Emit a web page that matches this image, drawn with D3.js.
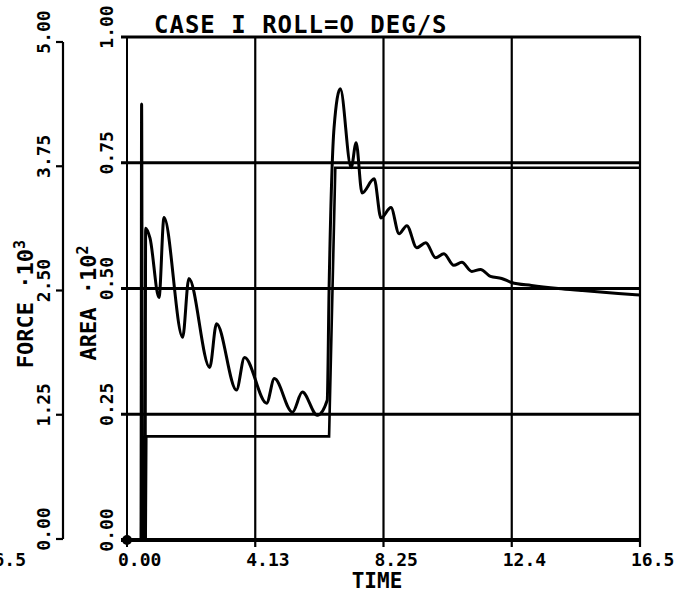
<!DOCTYPE html>
<html>
<head>
<meta charset="utf-8">
<script src="https://cdn.jsdelivr.net/npm/d3@7"></script>
<style>
  body { margin: 0; background: #fff; }
  svg { display: block; }
  text { font-family: "DejaVu Sans Mono", monospace; font-weight: bold; fill: #000; }
</style>
</head>
<body>
<svg id="chart"></svg>
<script>
let vWidth = 679,
  vHeight = 595;

// time axis
var timeTicks = [0, 4.125, 8.25, 12.375, 16.5];
var timeLabels = ['0.00', '4.13', '8.25', '12.4', '16.5'];

// left axes
var areaTicks = [0, 0.25, 0.5, 0.75, 1.0];
var areaLabels = ['0.00', '0.25', '0.50', '0.75', '1.00'];
var forceTicks = [0, 1.25, 2.5, 3.75, 5.0];
var forceLabels = ['0.00', '1.25', '2.50', '3.75', '5.00'];

// oscillating response
var respTime = [0, 0.45, 0.47, 0.5, 0.58, 0.6, 0.74, 1.03, 1.19, 1.79, 1.99, 2.66, 2.88, 3.52, 3.78,
  4.49, 4.74, 5.32, 5.64, 6.12, 6.44, 6.5, 6.66, 6.86, 7.21, 7.37, 7.56, 7.95, 8.17, 8.49,
  8.75, 9.0, 9.32, 9.61, 9.93, 10.19, 10.51, 10.77, 11.09, 11.37, 11.69, 12.05, 12.37,
  13.01, 13.87, 14.61, 15.8, 16.5];
var respValue = [0, 0, 0.867, 0, 0, 0.62, 0.60, 0.482, 0.641, 0.403, 0.52, 0.343, 0.43, 0.298, 0.363,
  0.272, 0.321, 0.254, 0.294, 0.248, 0.278, 0.5, 0.82, 0.897, 0.74, 0.79, 0.69, 0.718, 0.64, 0.661,
  0.609, 0.625, 0.581, 0.591, 0.561, 0.569, 0.546, 0.552, 0.534, 0.538, 0.524, 0.52, 0.512,
  0.506, 0.5, 0.496, 0.49, 0.487];

// step command
var stepTime = [0, 0.6, 0.62, 6.5, 6.7, 16.5];
var stepValue = [0, 0, 0.206, 0.206, 0.74, 0.74];

var svg = d3.select('#chart')
  .attr('width', vWidth)
  .attr('height', vHeight);

var x = d3.scaleLinear().domain([0, 16.5]).range([127, 640]);
var y = d3.scaleLinear().domain([0, 1]).range([540, 37]);
var yForce = d3.scaleLinear().domain([0, 5]).range([539, 42]);

//grid: horizontal
svg.selectAll('.hgrid')
  .data(areaTicks.slice(1))
  .enter().append('line')
  .attr('x1', x(0) - 6).attr('x2', x(16.5))
  .attr('y1', function (d) { return y(d); })
  .attr('y2', function (d) { return y(d); })
  .attr('stroke', '#000').attr('stroke-width', 3);

//grid: vertical
svg.selectAll('.vgrid')
  .data(timeTicks.slice(1))
  .enter().append('line')
  .attr('x1', function (d) { return x(d); })
  .attr('x2', function (d) { return x(d); })
  .attr('y1', y(1) - 1).attr('y2', y(0) + 7)
  .attr('stroke', '#000').attr('stroke-width', 2.2);

//left and bottom frame
svg.append('line')
  .attr('x1', x(0)).attr('x2', x(0))
  .attr('y1', y(1) - 1).attr('y2', y(0) + 7)
  .attr('stroke', '#000').attr('stroke-width', 2);
svg.append('line')
  .attr('x1', x(0) - 6).attr('x2', x(16.5))
  .attr('y1', y(0)).attr('y2', y(0))
  .attr('stroke', '#000').attr('stroke-width', 4);

//time labels
svg.selectAll('.tlab')
  .data(timeTicks)
  .enter().append('text')
  .attr('x', function (d) { return x(d) - 9; })
  .attr('y', 566)
  .attr('font-size', 18)
  .text(function (d, i) { return timeLabels[i]; });

// cut off label from the neighbouring plot
svg.append('text')
  .attr('x', 26).attr('y', 566)
  .attr('text-anchor', 'end')
  .attr('font-size', 18)
  .text('16.5');

svg.append('text')
  .attr('x', 377).attr('y', 588)
  .attr('text-anchor', 'middle')
  .attr('font-size', 21)
  .text('TIME');

//area labels (rotated)
svg.selectAll('.alab')
  .data(areaTicks)
  .enter().append('text')
  .attr('transform', function (d) { return 'translate(113,' + (y(d) - 10) + ')rotate(-90)'; })
  .attr('text-anchor', 'middle')
  .attr('font-size', 18)
  .text(function (d, i) { return areaLabels[i]; });

var aTitle = svg.append('text')
  .attr('transform', 'translate(96,303)rotate(-90)')
  .attr('text-anchor', 'middle')
  .attr('font-size', 22);
aTitle.append('tspan').text('AREA \u00b710');
aTitle.append('tspan').attr('dy', -8).attr('font-size', 15).text('2');

//force axis
svg.append('line')
  .attr('x1', 63).attr('x2', 63)
  .attr('y1', yForce(5)).attr('y2', yForce(0))
  .attr('stroke', '#000').attr('stroke-width', 2.2);
svg.selectAll('.ftick')
  .data(forceTicks)
  .enter().append('line')
  .attr('x1', 56).attr('x2', 63)
  .attr('y1', function (d) { return yForce(d); })
  .attr('y2', function (d) { return yForce(d); })
  .attr('stroke', '#000').attr('stroke-width', 2.2);
svg.selectAll('.flab')
  .data(forceTicks)
  .enter().append('text')
  .attr('transform', function (d) { return 'translate(50,' + (yForce(d) - 10) + ')rotate(-90)'; })
  .attr('text-anchor', 'middle')
  .attr('font-size', 18)
  .text(function (d, i) { return forceLabels[i]; });

var fTitle = svg.append('text')
  .attr('transform', 'translate(33,304)rotate(-90)')
  .attr('text-anchor', 'middle')
  .attr('font-size', 22);
fTitle.append('tspan').text('FORCE \u00b710');
fTitle.append('tspan').attr('dy', -8).attr('font-size', 15).text('3');

//title
svg.append('text')
  .attr('x', 154).attr('y', 33)
  .attr('font-size', 24)
  .attr('letter-spacing', 1)
  .text('CASE I ROLL=O DEG/S');

//series
var line = d3.line()
  .x(function (d) { return x(d[0]); })
  .y(function (d) { return y(d[1]); });

svg.append('path')
  .datum(d3.zip(stepTime, stepValue))
  .attr('d', line)
  .attr('fill', 'none').attr('stroke', '#000').attr('stroke-width', 2.6);

svg.append('path')
  .datum(d3.zip(respTime, respValue))
  .attr('d', line.curve(d3.curveMonotoneX))
  .attr('fill', 'none').attr('stroke', '#000').attr('stroke-width', 3)
  .attr('stroke-linejoin', 'round');

// blob at origin
svg.append('circle')
  .attr('cx', x(0)).attr('cy', y(0))
  .attr('r', 5).attr('fill', '#000');
</script>
</body>
</html>
